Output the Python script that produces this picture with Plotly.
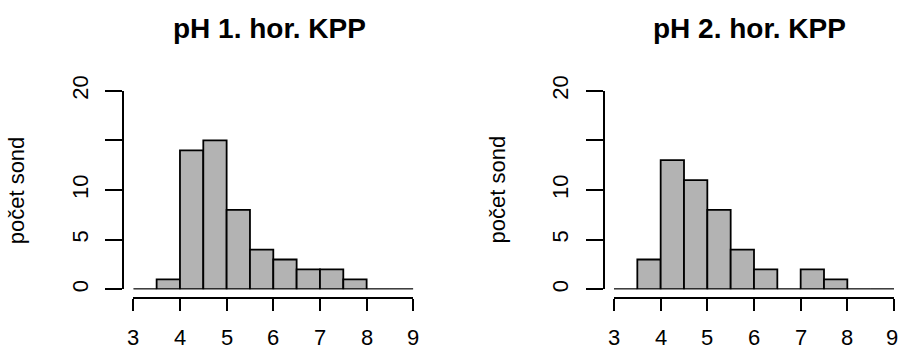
import plotly.graph_objects as go

# Histogram data: pH classes (bin edges) and sample counts per class
breaks = [3.0, 3.5, 4.0, 4.5, 5.0, 5.5, 6.0, 6.5, 7.0, 7.5, 8.0, 8.5, 9.0]
counts_h1 = [0, 1, 14, 15, 8, 4, 3, 2, 2, 1, 0, 0]
counts_h2 = [0, 3, 13, 11, 8, 4, 2, 0, 2, 1, 0, 0]
titles = ["pH 1. hor. KPP", "pH 2. hor. KPP"]
y_label = "počet sond"
x_ticks = [3, 4, 5, 6, 7, 8, 9]
y_ticks = [0, 5, 10, 15, 20]
y_ticktext = ["0", "5", "10", "", "20"]

W, H = 899, 351
FONT = "Liberation Sans, Arial, sans-serif"
TICK_SIZE = 22

# pixel layout of the two panels
panels = [
    dict(yaxis_x=123.3, x3=133.3, x9=413.3),
    dict(yaxis_x=603.5, x3=614.0, x9=894.0),
]
y0_px, y20_px = 289.3, 90.7
xaxis_y = 298.0

fig = go.Figure()
layout = dict(
    template="none",
    width=W, height=H, autosize=False,
    margin=dict(l=0, r=0, t=0, b=0, pad=0),
    paper_bgcolor="white", plot_bgcolor="white",
    showlegend=False,
    font=dict(family=FONT, color="black"),
    annotations=[],
)

centers = [(a + b) / 2 for a, b in zip(breaks[:-1], breaks[1:])]
widths = [b - a for a, b in zip(breaks[:-1], breaks[1:])]

for i, (counts, p) in enumerate(zip([counts_h1, counts_h2], panels)):
    n = "" if i == 0 else str(i + 1)
    xa, ya = "x" + n, "y" + n
    fig.add_trace(go.Bar(
        x=centers, y=counts, width=widths,
        marker=dict(color="#b3b3b3", line=dict(color="black", width=1.8)),
        xaxis=xa, yaxis=ya, hoverinfo="x+y",
    ))
    # zero line across the full break range (empty classes)
    fig.add_trace(go.Scatter(
        x=[breaks[0], breaks[-1]], y=[0, 0], mode="lines",
        line=dict(color="black", width=1.8),
        xaxis=xa, yaxis=ya, hoverinfo="skip",
    ))
    layout["xaxis" + n] = dict(
        domain=[p["x3"] / W, p["x9"] / W], range=[breaks[0], breaks[-1]],
        anchor="free", position=(H - xaxis_y) / H, automargin=False,
        showgrid=False, zeroline=False, showline=True, linecolor="black", linewidth=2,
        ticks="outside", ticklen=12, tickwidth=2, tickcolor="black",
        tickvals=x_ticks, showticklabels=False, fixedrange=True,
    )
    layout["yaxis" + n] = dict(
        domain=[(H - y0_px) / H, (H - y20_px) / H], range=[0, 20],
        anchor="free", position=p["yaxis_x"] / W, automargin=False,
        showgrid=False, zeroline=False, showline=True, linecolor="black", linewidth=2,
        ticks="outside", ticklen=17, tickwidth=2, tickcolor="black",
        tickvals=y_ticks, ticktext=y_ticktext, tickangle=-90,
        tickfont=dict(size=TICK_SIZE, family=FONT, color="black"),
        ticklabelstandoff=9, fixedrange=True,
    )
    # x tick labels placed at the tick values, sitting on the bottom edge
    for v in x_ticks:
        layout["annotations"].append(dict(
            text=str(v), x=v, xref=xa, y=0, yref="paper",
            xanchor="center", yanchor="bottom", showarrow=False,
            xshift=-2 if v == x_ticks[-1] and i == 1 else 0,
            borderpad=0,
            font=dict(size=TICK_SIZE, family=FONT, color="black"),
        ))
    cx = p["yaxis_x"] + 146
    layout["annotations"].append(dict(
        text="<b>" + titles[i] + "</b>", x=cx / W, y=(H - 28) / H,
        xref="paper", yref="paper", showarrow=False,
        xanchor="center", yanchor="middle",
        font=dict(size=28, family=FONT, color="black"),
    ))
    layout["annotations"].append(dict(
        text=y_label, x=(p["yaxis_x"] - 106) / W, y=(H - (y0_px + y20_px) / 2) / H,
        xref="paper", yref="paper", showarrow=False, textangle=-90,
        xanchor="center", yanchor="middle",
        font=dict(size=TICK_SIZE, family=FONT, color="black"),
    ))

fig.update_layout(**layout)
fig.write_html("out.html")
